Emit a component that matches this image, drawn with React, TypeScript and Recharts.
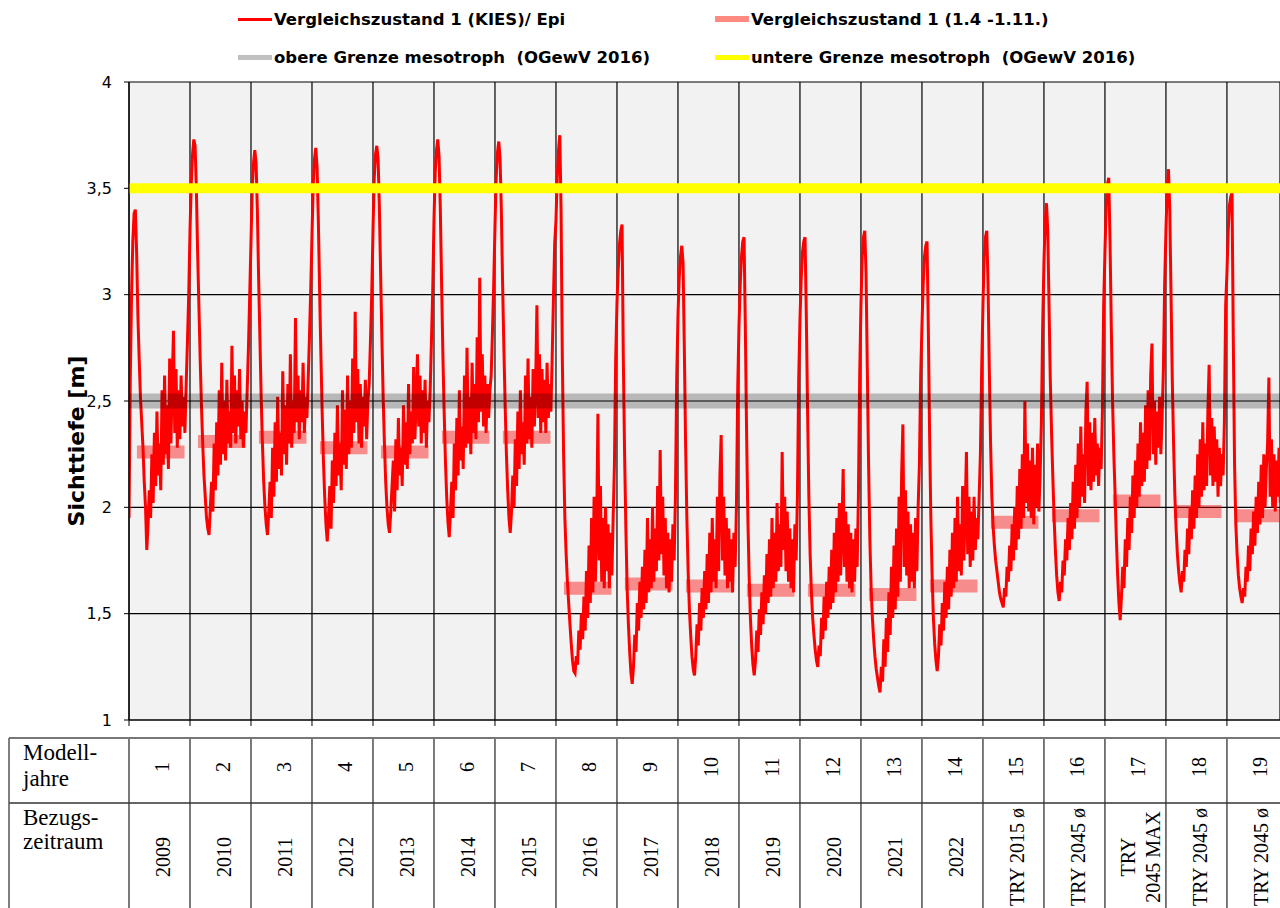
import React from "react";
import {
  LineChart,
  Line,
  XAxis,
  YAxis,
  CartesianGrid,
  ReferenceLine,
} from "recharts";

// table under the plot: model year and reference period
const MODEL_YEARS = ["1", "2", "3", "4", "5", "6", "7", "8", "9", "10", "11", "12", "13", "14", "15", "16", "17", "18", "19"];
const PERIODS = [
  "2009", "2010", "2011", "2012", "2013", "2014", "2015", "2016", "2017", "2018", "2019", "2020", "2021", "2022",
  "TRY 2015 ø", "TRY 2045 ø", "TRY\n2045 MAX", "TRY 2045 ø", "TRY 2045 ø",
];

// Sichttiefe Epi, 48 samples per model year (last year is cut by the picture)
const J01 = [1.95, 2.6, 3.0, 3.25, 3.38, 3.4, 3.2, 2.9, 2.7, 2.52, 2.4, 2.28, 2.12, 2.0, 1.8, 1.92, 2.08, 1.95, 2.25, 2.02, 2.35, 2.1, 2.45, 2.15, 2.3, 2.08, 2.55, 2.2, 2.62, 2.25, 2.48, 2.18, 2.7, 2.3, 2.58, 2.83, 2.35, 2.65, 2.28, 2.55, 2.32, 2.62, 2.38, 2.52, 2.35, 2.58, 2.78, 3.0];
const J02 = [3.3, 3.52, 3.66, 3.73, 3.7, 3.5, 3.2, 2.95, 2.7, 2.48, 2.3, 2.15, 2.05, 1.95, 1.9, 1.87, 2.0, 2.12, 1.98, 2.3, 2.08, 2.4, 2.15, 2.55, 2.2, 2.68, 2.25, 2.5, 2.22, 2.6, 2.3, 2.45, 2.28, 2.76, 2.35, 2.62, 2.3, 2.55, 2.38, 2.65, 2.32, 2.5, 2.28, 2.45, 2.35, 2.55, 2.75, 3.0];
const J03 = [3.25, 3.5, 3.62, 3.68, 3.62, 3.4, 3.08, 2.8, 2.52, 2.3, 2.12, 2.0, 1.92, 1.87, 1.98, 2.12, 1.95, 2.28, 2.05, 2.4, 2.12, 2.52, 2.18, 2.35, 2.15, 2.64, 2.25, 2.48, 2.2, 2.58, 2.3, 2.72, 2.28, 2.5, 2.35, 2.89, 2.4, 2.62, 2.32, 2.55, 2.4, 2.68, 2.35, 2.52, 2.42, 2.6, 2.8, 3.02];
const J04 = [3.28, 3.52, 3.64, 3.69, 3.6, 3.35, 3.02, 2.72, 2.45, 2.22, 2.05, 1.92, 1.84, 1.95, 2.1, 1.9, 2.22, 2.02, 2.35, 2.1, 2.48, 2.15, 2.3, 2.08, 2.55, 2.2, 2.46, 2.18, 2.62, 2.25, 2.5, 2.28, 2.7, 2.35, 2.92, 2.4, 2.65, 2.3, 2.58, 2.28, 2.52, 2.38, 2.6, 2.32, 2.5, 2.58, 2.78, 3.0];
const J05 = [3.3, 3.55, 3.66, 3.7, 3.64, 3.42, 3.1, 2.8, 2.52, 2.3, 2.12, 2.0, 1.92, 1.88, 1.98, 2.1, 2.22, 1.98, 2.32, 2.08, 2.42, 2.15, 2.28, 2.1, 2.48, 2.2, 2.4, 2.18, 2.58, 2.25, 2.45, 2.3, 2.66, 2.32, 2.5, 2.72, 2.38, 2.62, 2.3, 2.55, 2.35, 2.6, 2.28, 2.5, 2.4, 2.55, 2.78, 3.02];
const J06 = [3.35, 3.58, 3.68, 3.73, 3.65, 3.4, 3.05, 2.72, 2.45, 2.22, 2.05, 1.93, 1.86, 1.98, 2.12, 1.95, 2.3, 2.08, 2.42, 2.15, 2.55, 2.22, 2.38, 2.18, 2.62, 2.28, 2.75, 2.3, 2.52, 2.25, 2.68, 2.35, 2.58, 2.32, 2.8, 2.4, 3.08, 2.45, 2.72, 2.38, 2.62, 2.35, 2.58, 2.42, 2.55, 2.62, 2.82, 3.05];
const J07 = [3.32, 3.56, 3.67, 3.72, 3.64, 3.4, 3.05, 2.75, 2.48, 2.25, 2.08, 1.95, 1.88, 1.98, 2.15, 2.0, 2.32, 2.1, 2.45, 2.18, 2.55, 2.25, 2.4, 2.2, 2.62, 2.3, 2.7, 2.32, 2.52, 2.28, 2.65, 2.38, 2.58, 2.95, 2.42, 2.72, 2.35, 2.65, 2.4, 2.6, 2.35, 2.68, 2.42, 2.58, 2.45, 2.7, 2.98, 3.24];
const J08 = [3.35, 3.55, 3.68, 3.75, 3.4, 2.7, 2.25, 1.95, 1.78, 1.65, 1.55, 1.45, 1.36, 1.28, 1.23, 1.22, 1.3, 1.26, 1.42, 1.33, 1.5, 1.38, 1.58, 1.42, 1.7, 1.48, 1.82, 1.55, 1.95, 1.6, 2.05, 1.65, 1.9, 2.44, 1.75, 2.1, 1.65, 1.95, 1.62, 2.0, 1.7, 1.92, 1.62, 1.88, 1.68, 1.95, 2.2, 2.7];
const J09 = [2.96, 3.12, 3.24, 3.3, 3.33, 2.7, 2.25, 1.9, 1.62, 1.45, 1.32, 1.22, 1.17, 1.25, 1.4, 1.32, 1.55, 1.42, 1.65, 1.48, 1.72, 1.52, 1.8, 1.55, 1.95, 1.6, 1.85, 1.62, 2.0, 1.65, 1.9, 1.7, 2.1, 1.75, 2.27, 1.78, 2.05, 1.68, 1.95, 1.62, 1.88, 1.6, 1.85, 1.65, 1.92, 1.75, 2.05, 2.6];
const J10 = [2.9, 3.08, 3.18, 3.23, 3.15, 2.75, 2.3, 1.95, 1.7, 1.52, 1.4, 1.3, 1.24, 1.21, 1.3, 1.45, 1.35, 1.55, 1.42, 1.62, 1.48, 1.7, 1.52, 1.78, 1.55, 1.88, 1.6, 1.95, 1.65, 1.85, 1.62, 2.05, 1.7, 2.15, 2.34, 1.75, 2.05, 1.68, 1.95, 1.62, 1.9, 1.65, 1.85, 1.6, 1.88, 1.72, 2.0, 2.55];
const J11 = [2.85, 3.05, 3.18, 3.25, 3.27, 2.85, 2.35, 1.95, 1.68, 1.48, 1.35, 1.26, 1.21, 1.28, 1.42, 1.32, 1.52, 1.4, 1.6, 1.45, 1.68, 1.5, 1.78, 1.55, 1.85, 1.58, 1.95, 1.62, 1.88, 1.65, 2.02, 1.7, 1.92, 1.72, 2.26, 1.8, 2.05, 1.7, 1.98, 1.65, 1.9, 1.62, 1.85, 1.6, 1.92, 1.75, 2.05, 2.6];
const J12 = [2.88, 3.08, 3.2, 3.25, 3.27, 2.9, 2.45, 2.05, 1.78, 1.6, 1.48, 1.4, 1.33, 1.28, 1.25, 1.35, 1.3, 1.48, 1.38, 1.58, 1.42, 1.65, 1.48, 1.72, 1.52, 1.8, 1.55, 1.88, 1.6, 1.95, 1.65, 2.02, 1.68, 1.9, 2.18, 1.72, 1.98, 1.65, 1.92, 1.62, 1.88, 1.6, 1.85, 1.65, 1.9, 1.72, 2.05, 2.62];
const J13 = [2.95, 3.18, 3.27, 3.3, 3.1, 2.65, 2.2, 1.85, 1.62, 1.48, 1.38, 1.3, 1.24, 1.2, 1.16, 1.13, 1.25, 1.18, 1.38, 1.25, 1.48, 1.32, 1.6, 1.4, 1.72, 1.48, 1.82, 1.52, 1.9, 1.58, 2.05, 1.65, 2.15, 2.39, 1.72, 2.08, 1.68, 1.98, 1.62, 1.92, 1.65, 1.88, 1.62, 1.95, 1.7, 2.0, 2.2, 2.62];
const J14 = [2.85, 3.05, 3.18, 3.23, 3.25, 2.85, 2.35, 1.95, 1.68, 1.48, 1.36, 1.28, 1.23, 1.3, 1.45, 1.35, 1.55, 1.42, 1.65, 1.48, 1.72, 1.52, 1.8, 1.58, 1.88, 1.62, 1.95, 1.65, 2.05, 1.7, 1.92, 1.68, 2.1, 1.75, 1.98, 2.26, 1.78, 2.05, 1.72, 1.98, 1.75, 2.05, 1.8, 1.95, 1.85, 2.05, 2.25, 2.65];
const J15 = [2.95, 3.18, 3.27, 3.3, 3.05, 2.65, 2.3, 2.05, 1.91, 1.82, 1.75, 1.7, 1.65, 1.6, 1.57, 1.55, 1.53, 1.62, 1.58, 1.72, 1.65, 1.82, 1.7, 1.92, 1.75, 2.0, 1.8, 2.1, 1.85, 2.18, 1.9, 2.25, 1.95, 2.5, 2.02, 2.3, 1.98, 2.22, 1.95, 2.28, 1.92, 2.2, 2.0, 2.3, 1.98, 2.15, 2.4, 2.85];
const J16 = [3.15, 3.35, 3.43, 3.3, 2.95, 2.6, 2.35, 2.14, 1.95, 1.8, 1.68, 1.6, 1.56, 1.65, 1.6, 1.75, 1.68, 1.85, 1.75, 1.95, 1.8, 2.02, 1.85, 2.12, 1.9, 2.2, 1.95, 2.3, 2.0, 2.38, 2.05, 2.25, 2.02, 2.45, 2.59, 2.1, 2.4, 2.08, 2.35, 2.12, 2.42, 2.15, 2.3, 2.1, 2.28, 2.18, 2.45, 2.95];
const J17 = [3.2, 3.42, 3.52, 3.55, 3.25, 2.85, 2.5, 2.25, 2.06, 1.85, 1.68, 1.55, 1.47, 1.58, 1.72, 1.62, 1.85, 1.72, 1.95, 1.8, 2.05, 1.88, 2.15, 1.95, 2.22, 2.0, 2.3, 2.05, 2.4, 2.1, 2.35, 2.12, 2.48, 2.18, 2.55, 2.22, 2.62, 2.77, 2.25, 2.5, 2.2, 2.45, 2.28, 2.52, 2.25, 2.42, 2.65, 3.05];
const J18 = [3.3, 3.5, 3.59, 3.4, 3.0, 2.6, 2.3, 2.06, 1.9, 1.78, 1.7, 1.64, 1.6, 1.7, 1.65, 1.8, 1.72, 1.9, 1.78, 2.0, 1.85, 2.08, 1.9, 2.15, 1.95, 2.25, 2.0, 2.32, 2.05, 2.4, 2.08, 2.3, 2.1, 2.45, 2.67, 2.15, 2.42, 2.1, 2.38, 2.12, 2.32, 2.05, 2.28, 2.1, 2.25, 2.15, 2.4, 2.95];
const J19 = [3.1, 3.3, 3.42, 3.46, 3.48, 2.8, 2.2, 1.92, 1.78, 1.68, 1.62, 1.58, 1.55, 1.62, 1.58, 1.72, 1.65, 1.82, 1.7, 1.9, 1.78, 1.98, 1.82, 2.05, 1.88, 2.12, 1.92, 2.2, 1.95, 2.25, 2.0, 2.18, 2.3, 2.61, 2.05, 2.32, 2.0, 2.25, 1.98, 2.22, 2.05, 2.28, 2.02];
const EPI = [J01, J02, J03, J04, J05, J06, J07, J08, J09, J10, J11, J12, J13, J14, J15, J16, J17, J18, J19];
const SAMPLES_PER_YEAR = 48;

// mean 1.4.-1.11. per model year
const COMPARE_APR_NOV = [2.26, 2.31, 2.33, 2.28, 2.26, 2.33, 2.33, 1.62, 1.64, 1.63, 1.61, 1.61, 1.59, 1.63, 1.93, 1.96, 2.03, 1.98, 1.96];
const BAND_FROM = 0.13;
const BAND_TO = 0.91;

const OBERE_GRENZE = 2.5;
const UNTERE_GRENZE = 3.5;
const Y_TICKS = [1, 1.5, 2, 2.5, 3, 3.5, 4];
const X_MAX = 18.87; // picture is cut at the right

const epiData = EPI.flatMap((vals, k) =>
  vals.map((v, i) => ({ t: k + i / SAMPLES_PER_YEAR, epi: v }))
);
const bandData = COMPARE_APR_NOV.flatMap((v, k) => [
  { t: k + BAND_FROM, band: v },
  { t: k + BAND_TO, band: v },
  { t: k + BAND_TO + 0.01, band: null },
]);
const YEAR_EDGES = MODEL_YEARS.map((_, k) => k);
const YEAR_CENTERS = MODEL_YEARS.map((_, k) => k + 0.5);

const TABLE_TOP = 738;
const TABLE_MID = 803;
const TABLE_BOTTOM = 908;
const SERIF = "'Liberation Serif', 'Times New Roman', serif";
const SANS = "'DejaVu Sans', Verdana, sans-serif";

function TableRule(props: any) {
  return (
    <line x1={props.x} x2={props.x} y1={TABLE_TOP} y2={TABLE_BOTTOM} stroke="#333" strokeWidth={1.3} />
  );
}

function CellLabel(props: any) {
  const k = Math.floor(props.payload.value);
  const x = props.x;
  const lines = PERIODS[k].split("\n");
  const numX = x + 10;
  const numY = 767;
  const perY = 857;
  return (
    <g fontFamily={SERIF} fontSize={20} fill="#000">
      <text x={numX} y={numY} textAnchor="middle" transform={`rotate(-90 ${numX} ${numY})`}>
        {MODEL_YEARS[k]}
      </text>
      {lines.map((s, j) => {
        const bx = lines.length === 1 ? x + 11 : x + j * 25;
        return (
          <text key={j} x={bx} y={perY} textAnchor="middle" transform={`rotate(-90 ${bx} ${perY})`}>
            {s}
          </text>
        );
      })}
    </g>
  );
}

const legendItems = [
  { label: "Vergleichszustand 1 (KIES)/ Epi", color: "#ff0000", h: 3, left: 238, top: 19 },
  { label: "Vergleichszustand 1 (1.4 -1.11.)", color: "#ff8a80", h: 6, left: 715, top: 19 },
  { label: "obere Grenze mesotroph  (OGewV 2016)", color: "#c0c0c0", h: 5, left: 238, top: 57 },
  { label: "untere Grenze mesotroph  (OGewV 2016)", color: "#ffff00", h: 5, left: 715, top: 57 },
];

export default function App() {
  return (
    <div style={{ position: "absolute", left: 0, top: 0, width: 1280, height: 908, background: "#fff", overflow: "hidden" }}>
      <LineChart width={1280} height={908} data={epiData} margin={{ top: 82, right: 0, bottom: 0, left: 0 }}>
        <CartesianGrid fill="#f2f2f2" fillOpacity={1} stroke="#000" strokeWidth={1.2} />
        <XAxis
          dataKey="t"
          type="number"
          domain={[0, X_MAX]}
          allowDataOverflow
          ticks={YEAR_EDGES}
          interval={0}
          height={18}
          tickSize={6}
          axisLine={{ stroke: "#000", strokeWidth: 1.2 }}
          tickLine={{ stroke: "#000" }}
          tick={TableRule}
        />
        <XAxis
          xAxisId="cells"
          dataKey="t"
          type="number"
          domain={[0, X_MAX]}
          allowDataOverflow
          ticks={YEAR_CENTERS}
          interval={0}
          height={170}
          axisLine={false}
          tickLine={false}
          tick={CellLabel}
        />
        <YAxis
          type="number"
          domain={[1, 4]}
          ticks={Y_TICKS}
          interval={0}
          width={129}
          tickSize={5}
          tickMargin={12}
          axisLine={{ stroke: "#000", strokeWidth: 1.2 }}
          tickLine={{ stroke: "#000" }}
          tick={{ fontSize: 16, fill: "#000", fontFamily: SANS }}
          tickFormatter={(v: number) => String(v).replace(".", ",")}
        />
        <Line
          data={bandData}
          dataKey="band"
          stroke="#ff0000"
          strokeOpacity={0.42}
          strokeWidth={13}
          strokeLinecap="butt"
          dot={false}
          connectNulls={false}
          isAnimationActive={false}
        />
        <Line
          dataKey="epi"
          stroke="#ff0000"
          strokeWidth={3}
          strokeLinejoin="miter"
          dot={false}
          isAnimationActive={false}
        />
        <ReferenceLine y={OBERE_GRENZE} stroke="#000" strokeOpacity={0.24} strokeWidth={15} />
        <ReferenceLine y={UNTERE_GRENZE} stroke="#ffff00" strokeWidth={10} />
      </LineChart>

      <svg width={1280} height={908} style={{ position: "absolute", left: 0, top: 0, pointerEvents: "none" }}>
        <line x1={9} x2={1280} y1={TABLE_TOP} y2={TABLE_TOP} stroke="#777" strokeWidth={2} />
        <line x1={9} x2={1280} y1={TABLE_MID} y2={TABLE_MID} stroke="#333" strokeWidth={1.3} />
        <line x1={9} x2={9} y1={TABLE_TOP} y2={TABLE_BOTTOM} stroke="#555" strokeWidth={1.5} />
        <g fontFamily={SERIF} fontSize={23} fill="#000">
          <text x={23} y={760}>Modell-</text>
          <text x={23} y={786}>jahre</text>
          <text x={23} y={825}>Bezugs-</text>
          <text x={23} y={849}>zeitraum</text>
        </g>
        <text
          transform="translate(76 441) rotate(-90)"
          textAnchor="middle"
          dominantBaseline="central"
          fontFamily={SANS}
          fontWeight="bold"
          fontSize={22}
          fill="#000"
        >
          Sichttiefe [m]
        </text>
      </svg>

      {legendItems.map((it) => (
        <div
          key={it.label}
          style={{
            position: "absolute",
            left: it.left,
            top: it.top - 11,
            height: 22,
            display: "flex",
            alignItems: "center",
            fontFamily: SANS,
            fontWeight: "bold",
            fontSize: 16.5,
            whiteSpace: "pre",
            color: "#000",
          }}
        >
          <span style={{ display: "inline-block", width: 34, height: it.h, background: it.color, marginRight: 2 }} />
          {it.label}
        </div>
      ))}
    </div>
  );
}
